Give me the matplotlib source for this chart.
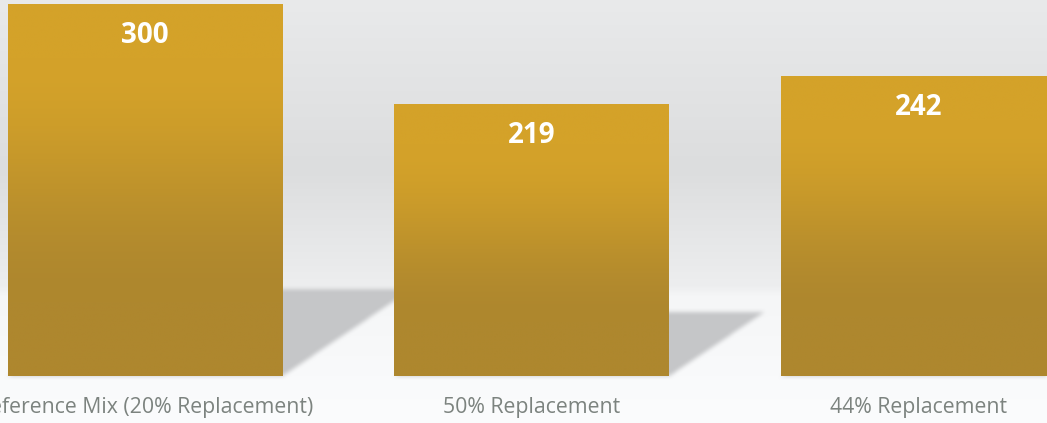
import numpy as np
import matplotlib
matplotlib.use("Agg")
import matplotlib.pyplot as plt
from matplotlib.path import Path as MplPath

categories = ["Reference Mix (20% Replacement)", "50% Replacement", "44% Replacement"]
values = [300, 219, 242]

BAR_TOP = np.array([212, 162, 41]) / 255
BAR_BOTTOM = np.array([174, 135, 46]) / 255
SHADOW_RGB = np.array([197, 198, 200]) / 255

W, H, DPI = 1047, 423, 100

fig = plt.figure(figsize=(W / DPI, H / DPI), dpi=DPI)
ax = fig.add_axes([0, 0, 1, 1])
ax.set_xlim(-0.375, 2.332)
ax.set_ylim(-37.9, 303.2)
ax.axis("off")

x = np.arange(len(values))
bar_width = 0.711

# background: wall + floor gradient, shadows blurred in pixel space
rows = np.arange(H) + 0.5
stops_y = [0, 170, 286, 296, 376, 423]
stops_v = [234, 221, 238, 246, 250, 252]
grey = np.interp(rows, stops_y, stops_v) / 255
bg = np.repeat(grey[:, None], W, axis=1)
bg = np.stack([bg - 1 / 255, bg, bg + 1 / 255], axis=-1).clip(0, 1)

xx, yy = np.meshgrid(np.arange(W) + 0.5, H - (np.arange(H) + 0.5))
pts = np.column_stack([xx.ravel(), yy.ravel()])
mask = np.zeros(H * W)
for xi, v in zip(x, values):
    rise = 0.235 * v
    shift = 0.00112 * v
    verts = [
        (xi - bar_width / 2, 0),
        (xi + bar_width / 2, 0),
        (xi + bar_width / 2 + shift, rise),
        (xi - bar_width / 2 + shift, rise),
    ]
    disp = ax.transData.transform(verts)
    mask = np.maximum(mask, MplPath(disp).contains_points(pts).astype(float))
mask = mask.reshape(H, W)

k = np.ones(5) / 5
for _ in range(2):
    mask = np.apply_along_axis(lambda r: np.convolve(r, k, mode="same"), 1, mask)
    mask = np.apply_along_axis(lambda c: np.convolve(c, k, mode="same"), 0, mask)
bg = bg * (1 - mask[..., None]) + SHADOW_RGB * mask[..., None]

ax.imshow(bg, extent=[*ax.get_xlim(), *ax.get_ylim()], aspect="auto", zorder=0, interpolation="nearest")

# bars with vertical gold gradient
bars = ax.bar(x, values, width=bar_width, color="none", edgecolor="none", zorder=2)
t = np.linspace(0, 1, 512)
s = np.clip((t - 0.15) / 0.65, 0, 1)
ramp = s * s * (3 - 2 * s)
grad = BAR_TOP[None, :] * (1 - ramp[:, None]) + BAR_BOTTOM[None, :] * ramp[:, None]
for b in bars:
    x0, w, h = b.get_x(), b.get_width(), b.get_height()
    im = ax.imshow(grad[:, None, :], extent=[x0, x0 + w, 0, h], aspect="auto", zorder=2, interpolation="bilinear")
    im.set_clip_path(b)
ax.set_xlim(-0.375, 2.332)
ax.set_ylim(-37.9, 303.2)

for xi, v in zip(x, values):
    ax.text(xi, v - 31.5, str(v), ha="center", va="baseline", color="white",
            fontsize=20, fontweight="bold", family="Open Sans", zorder=3)

for xi, name in zip(x, categories):
    ax.text(xi, -29.8, name, ha="center", va="baseline", color="#7C837F",
            fontsize=15.3, family="Open Sans", zorder=3)

fig.savefig("out.png", dpi=DPI)
